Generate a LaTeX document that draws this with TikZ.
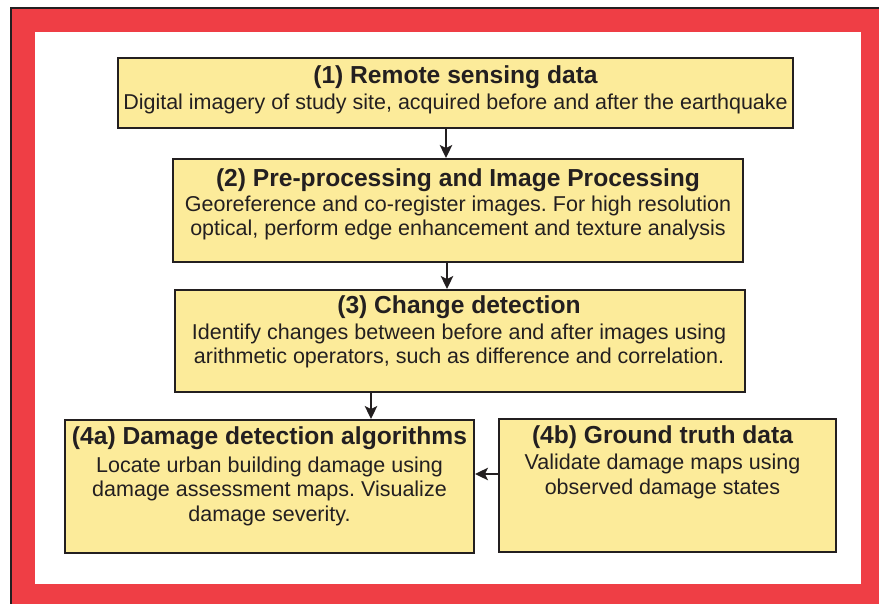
\documentclass[tikz,border=0pt]{standalone}
\usepackage{fontspec}
\setmainfont{Liberation Sans}
\usetikzlibrary{arrows.meta}
\definecolor{frame}{HTML}{EF3E45}
\definecolor{boxfill}{HTML}{FCEB9A}
\definecolor{ink}{HTML}{231F20}
\frenchspacing
\tikzset{
  box/.style={draw=ink, line width=2pt, fill=boxfill, inner sep=0pt, minimum width=#1},
  txt/.style={anchor=north, inner sep=0pt, align=center, text=ink,
    font=\fontsize{21.5}{24.5}\selectfont},
  arr/.style={draw=ink, line width=1.6pt, -{Stealth[length=13pt,width=12.5pt,inset=3pt]}},
}
\newcommand{\ttl}[1]{{\bfseries\fontsize{24.6}{24.5}\selectfont #1}}
\begin{document}
\begin{tikzpicture}[x=1pt,y=-1pt]
\useasboundingbox (0,0) rectangle (879,604);
\begin{scope}
\clip (0,0) rectangle (879,604);
\fill[frame, draw=ink, line width=2pt] (10.5,8) rectangle (920,640);
\fill[white] (35,32) rectangle (861,584);
\end{scope}
% boxes
\node[box=675pt, minimum height=70pt] (b1) at (455.5,93) {};
\node[box=570pt, minimum height=103pt] (b2) at (458,210.5) {};
\node[box=570pt, minimum height=102pt] (b3) at (460,341) {};
\node[box=409pt, minimum height=133pt] (b4a) at (269.5,486.5) {};
\node[box=337pt, minimum height=133pt] (b4b) at (667.5,485) {};
% texts
\node[txt] (t1) at ([yshift=-8pt]b1.north) {\ttl{(1) Remote sensing data}\\[2pt]
  Digital imagery of study site, acquired before and after the earthquake};
\node[txt] (t2) at ([yshift=-10pt]b2.north) {\ttl{(2) Pre-processing and Image Processing}\\[0.5pt]
  Georeference and co-register images. For high resolution\\
  optical, perform edge enhancement and texture analysis};
\node[txt] (t3) at ([yshift=-6pt,xshift=-1pt]b3.north) {\ttl{(3) Change detection}\\[1.5pt]
  Identify changes between before and after images using\\
  arithmetic operators, such as difference and correlation.};
\node[txt] (t4a) at ([yshift=-7pt]b4a.north) {\ttl{(4a) Damage detection algorithms}\\[3.5pt]
  Locate urban building damage using\\
  damage assessment maps. Visualize\\
  damage severity.};
\node[txt] (t4b) at ([yshift=-8pt,xshift=-5pt]b4b.north) {\ttl{(4b) Ground truth data}\\[1.5pt]
  Validate damage maps using\\
  observed damage states};
% arrows
\coordinate (c1) at (446,0);
\coordinate (c2) at (447,0);
\coordinate (c3) at (371,0);
\coordinate (c4) at (0,474);
\draw[arr] (b1.south -| c1) -- (b2.north -| c1);
\draw[arr] (b2.south -| c2) -- (b3.north -| c2);
\draw[arr] (b3.south -| c3) -- (b4a.north -| c3);
\draw[arr] (b4b.west |- c4) -- (b4a.east |- c4);
\end{tikzpicture}
\end{document}
